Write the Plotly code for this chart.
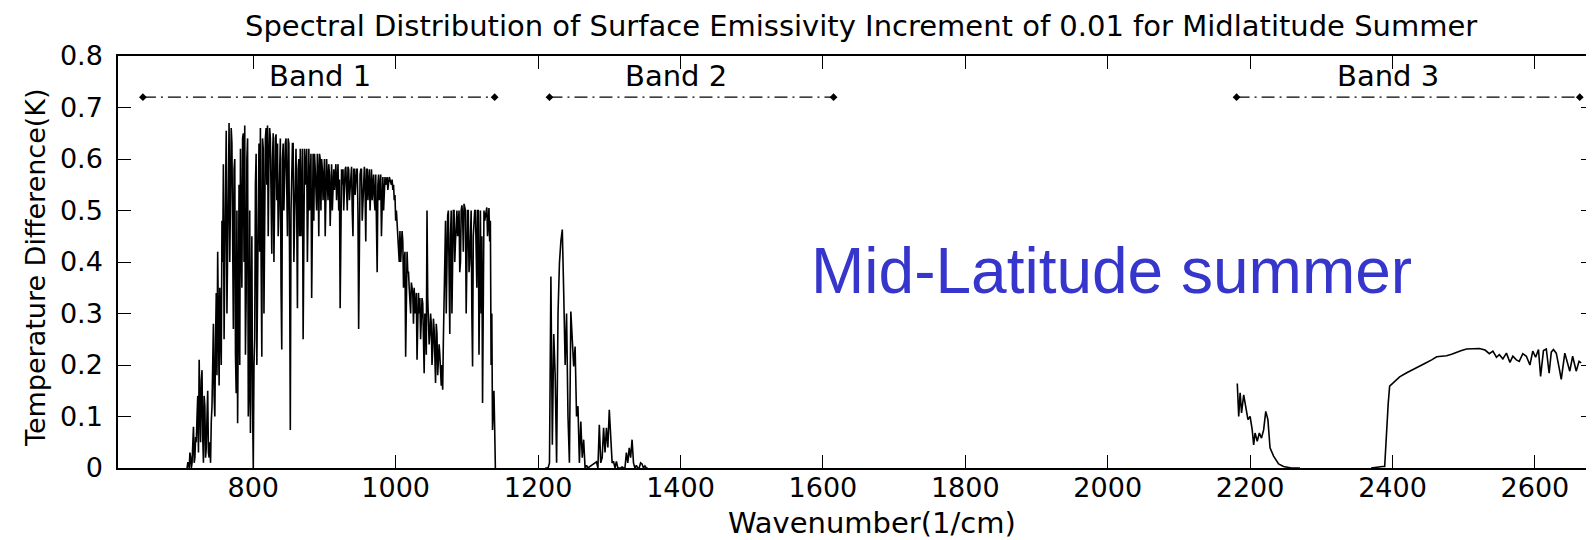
import numpy as np
import plotly.graph_objects as go

# ---------------- data ----------------
# Band 1, even wavenumbers 706..1140
band1_wn_even = list(range(706, 1142, 2))
band1_dt_even = [
    0.00, 0.01, 0.00, 0.02, 0.01, 0.08, 0.02, 0.05, 0.14, 0.21,
    0.05, 0.19, 0.01, 0.12, 0.04, 0.15, 0.02, 0.01, 0.12, 0.28,
    0.10, 0.34, 0.42, 0.16, 0.30, 0.48, 0.59, 0.40, 0.655, 0.45,
    0.67, 0.52, 0.63, 0.27, 0.60, 0.145, 0.087, 0.55, 0.62, 0.35,
    0.65, 0.665, 0.33, 0.64, 0.15, 0.068, 0.45, 0.00, 0.25, 0.61,
    0.35, 0.63, 0.66, 0.216, 0.62, 0.50, 0.66, 0.665, 0.60, 0.64,
    0.416, 0.65, 0.55, 0.648, 0.63, 0.50, 0.64, 0.23, 0.63, 0.58,
    0.64, 0.45, 0.63, 0.074, 0.62, 0.63, 0.48, 0.62, 0.31, 0.60,
    0.62, 0.55, 0.25, 0.62, 0.60, 0.40, 0.62, 0.58, 0.33, 0.61,
    0.61, 0.55, 0.61, 0.45, 0.60, 0.60, 0.52, 0.60, 0.59, 0.56,
    0.59, 0.47, 0.59, 0.58, 0.54, 0.59, 0.58, 0.50, 0.31, 0.58,
    0.58, 0.56, 0.585, 0.50, 0.58, 0.55, 0.585, 0.45, 0.58, 0.57,
    0.58, 0.27, 0.57, 0.58, 0.52, 0.585, 0.44, 0.58, 0.57, 0.50,
    0.58, 0.56, 0.52, 0.57, 0.38, 0.57, 0.56, 0.45, 0.565, 0.56,
    0.55, 0.565, 0.56, 0.56, 0.55, 0.54, 0.52, 0.48, 0.47, 0.44,
    0.46, 0.43, 0.44, 0.40, 0.216, 0.42, 0.38, 0.33, 0.36, 0.34,
    0.35, 0.31, 0.21, 0.34, 0.33, 0.30, 0.32, 0.184, 0.28, 0.50,
    0.30, 0.26, 0.28, 0.23, 0.27, 0.165, 0.26, 0.20, 0.22, 0.16,
    0.152, 0.35, 0.48, 0.42, 0.50, 0.26, 0.50, 0.47, 0.50, 0.44,
    0.50, 0.49, 0.38, 0.50, 0.49, 0.513, 0.50, 0.45, 0.50, 0.40,
    0.50, 0.197, 0.49, 0.50, 0.35, 0.50, 0.48, 0.30, 0.126, 0.50,
    0.49, 0.506, 0.50, 0.44, 0.20, 0.074, 0.15, 0.00,
]
# Band 1, odd wavenumbers 707..1139
band1_wn_odd = list(range(707, 1141, 2))
band1_dt_odd = [
    0.00, 0.01, 0.03, 0.00, 0.04, 0.01, 0.06, 0.10, 0.03, 0.12,
    0.17, 0.06, 0.14, 0.02, 0.10, 0.03, 0.05, 0.09, 0.20, 0.14,
    0.25, 0.18, 0.28, 0.35, 0.20, 0.40, 0.25, 0.62, 0.30, 0.60,
    0.40, 0.66, 0.35, 0.58, 0.22, 0.50, 0.30, 0.20, 0.45, 0.64,
    0.40, 0.22, 0.60, 0.10, 0.50, 0.30, 0.12, 0.20, 0.55, 0.20,
    0.60, 0.42, 0.40, 0.64, 0.30, 0.64, 0.55, 0.45, 0.66, 0.55,
    0.60, 0.40, 0.64, 0.52, 0.45, 0.64, 0.35, 0.60, 0.50, 0.63,
    0.55, 0.64, 0.40, 0.50, 0.63, 0.40, 0.62, 0.50, 0.58, 0.45,
    0.45, 0.62, 0.50, 0.55, 0.62, 0.55, 0.50, 0.61, 0.55, 0.48,
    0.58, 0.50, 0.57, 0.61, 0.50, 0.58, 0.60, 0.45, 0.60, 0.52,
    0.57, 0.59, 0.50, 0.58, 0.59, 0.52, 0.59, 0.56, 0.50, 0.55,
    0.50, 0.58, 0.55, 0.585, 0.52, 0.58, 0.50, 0.58, 0.53, 0.58,
    0.50, 0.55, 0.58, 0.48, 0.58, 0.54, 0.58, 0.52, 0.58, 0.56,
    0.52, 0.57, 0.50, 0.48, 0.55, 0.52, 0.57, 0.55, 0.50, 0.565,
    0.56, 0.54, 0.565, 0.55, 0.56, 0.55, 0.53, 0.50, 0.45, 0.40,
    0.40, 0.46, 0.35, 0.42, 0.30, 0.38, 0.35, 0.30, 0.34, 0.28,
    0.30, 0.34, 0.28, 0.30, 0.25, 0.33, 0.26, 0.30, 0.22, 0.33,
    0.24, 0.30, 0.20, 0.29, 0.22, 0.28, 0.18, 0.24, 0.17, 0.20,
    0.25, 0.40, 0.30, 0.49, 0.40, 0.45, 0.30, 0.50, 0.40, 0.50,
    0.45, 0.50, 0.40, 0.51, 0.42, 0.50, 0.30, 0.50, 0.38, 0.50,
    0.30, 0.45, 0.50, 0.40, 0.50, 0.22, 0.50, 0.45, 0.40, 0.48,
    0.50, 0.45, 0.505, 0.48, 0.30, 0.10, 0.08,
]

band2_wn = list(range(1210, 1356, 2))
band2_dt = [
    0.00, 0.00, 0.00, 0.01, 0.372, 0.045, 0.26, 0.18, 0.01, 0.30,
    0.398, 0.44, 0.463, 0.34, 0.20, 0.30, 0.10, 0.01, 0.304, 0.25,
    0.197, 0.236, 0.10, 0.12, 0.01, 0.09, 0.02, 0.055, 0.00, 0.005,
    0.00, 0.002, 0.004, 0.006, 0.008, 0.010, 0.012, 0.000, 0.084, 0.01,
    0.02, 0.078, 0.03, 0.078, 0.04, 0.113, 0.068, 0.01, 0.013, 0.00,
    0.013, 0.00, 0.00, 0.00, 0.002, 0.00, 0.00, 0.03, 0.01, 0.039,
    0.02, 0.055, 0.01, 0.00, 0.005, 0.00, 0.00, 0.01, 0.008, 0.00,
    0.004, 0.00, 0.00,
]

band3a_wn = [2182, 2184, 2186, 2188, 2191, 2194, 2197, 2200, 2203, 2205,
             2207, 2210, 2213, 2216, 2219, 2222, 2225, 2228, 2233, 2240,
             2247, 2258, 2270]
band3a_dt = [0.164, 0.10, 0.146, 0.107, 0.142, 0.113, 0.094, 0.10, 0.074, 0.045,
             0.068, 0.052, 0.068, 0.058, 0.074, 0.11, 0.094, 0.039, 0.023, 0.008,
             0.003, 0.0, 0.0]

band3b_wn = [2370, 2378, 2386, 2389, 2392, 2394, 2396, 2401, 2410, 2420,
             2429, 2438, 2448, 2455, 2462, 2469, 2476, 2483, 2490, 2497,
             2504, 2512, 2522, 2530, 2536, 2541, 2546,
             2550, 2555, 2560, 2565, 2569, 2574, 2578, 2583, 2588, 2593,
             2597, 2601, 2605, 2608, 2612, 2616, 2620, 2623, 2626, 2630,
             2634, 2637, 2642, 2646, 2649, 2653, 2658, 2662, 2665]
band3b_dt = [0.0, 0.002, 0.003, 0.003, 0.094, 0.126, 0.159, 0.165, 0.177, 0.185,
             0.191, 0.198, 0.205, 0.210, 0.216, 0.217, 0.218, 0.221, 0.225, 0.228,
             0.231, 0.232, 0.232, 0.229, 0.222, 0.227, 0.215,
             0.22, 0.212, 0.223, 0.205, 0.217, 0.21, 0.207, 0.222, 0.217, 0.200,
             0.227, 0.215, 0.23, 0.178, 0.228, 0.231, 0.184, 0.225, 0.23, 0.223,
             0.195, 0.172, 0.223, 0.20, 0.188, 0.217, 0.188, 0.207, 0.204]

bands = ["Band 1", "Band 2", "Band 3"]
band_start = [645, 1216, 2181]
band_end = [1139, 1615, 2663]
band_label_x = [894, 1394, 2393]
band_arrow_y = 0.72
band_label_y = 0.762

x_ticks = [800, 1000, 1200, 1400, 1600, 1800, 2000, 2200, 2400, 2600]
y_ticks = [0, 0.1, 0.2, 0.3, 0.4, 0.5, 0.6, 0.7, 0.8]
y_tick_text = ["0", "0.1", "0.2", "0.3", "0.4", "0.5", "0.6", "0.7", "0.8"]

title_text = "Spectral Distribution of Surface Emissivity Increment of 0.01 for Midlatitude Summer"
x_title = "Wavenumber(1/cm)"
y_title = "Temperature Difference(K)"
overlay_text = "Mid-Latitude summer"

# ---------------- figure ----------------
band1 = sorted(zip(band1_wn_even + band1_wn_odd, band1_dt_even + band1_dt_odd))
band1_wn = [p[0] for p in band1]
band1_dt = [p[1] for p in band1]

wn = band1_wn + [None] + band2_wn + [None] + band3a_wn + [None] + band3b_wn
dt = band1_dt + [None] + band2_dt + [None] + band3a_dt + [None] + band3b_dt

FONT = "DejaVu Sans"
# the page body keeps an 8px margin, so the figure is sized/offset to land on the window
PAGE_PAD = 8
W, H = 1594 - PAGE_PAD, 540 - PAGE_PAD
ML, MT, MB = 118 - PAGE_PAD, 56 - PAGE_PAD, 72
PW, PH = W - ML, H - MT - MB

fig = go.Figure()
fig.add_trace(go.Scatter(x=wn, y=dt, mode="lines", connectgaps=False,
                         line=dict(color="black", width=1.6), hoverinfo="skip"))

for s, e in zip(band_start, band_end):
    fig.add_trace(go.Scatter(x=[s, e], y=[band_arrow_y, band_arrow_y], mode="lines+markers",
                             line=dict(color="black", width=1.3, dash="13px,5px,2px,5px"),
                             marker=dict(symbol="diamond", size=6, color="black"),
                             hoverinfo="skip"))

def px_x(sx):
    return (sx - PAGE_PAD - ML) / PW

def px_y(sy):
    return (MT + PH - (sy - PAGE_PAD)) / PH

annotations = []
for name, lx in zip(bands, band_label_x):
    annotations.append(dict(x=lx, y=band_label_y, xref="x", yref="y", text=name,
                            showarrow=False, font=dict(family=FONT, size=29, color="black"),
                            xanchor="center", yanchor="middle"))
annotations.append(dict(x=2006, y=0.383, xref="x", yref="y", text=overlay_text,
                        showarrow=False, font=dict(family="Liberation Sans", size=64, color="#3636CC"),
                        xanchor="center", yanchor="middle"))
annotations.append(dict(x=px_x(861), y=px_y(25.5), xref="paper", yref="paper",
                        text=title_text, showarrow=False,
                        font=dict(family=FONT, size=29, color="black"),
                        xanchor="center", yanchor="middle"))
annotations.append(dict(x=px_x(872), y=px_y(522.5), xref="paper", yref="paper",
                        text=x_title, showarrow=False,
                        font=dict(family=FONT, size=29, color="black"),
                        xanchor="center", yanchor="middle"))
annotations.append(dict(x=px_x(35), y=px_y(268), xref="paper", yref="paper",
                        text=y_title, showarrow=False, textangle=-90,
                        font=dict(family=FONT, size=27, color="black"),
                        xanchor="center", yanchor="middle"))

fig.update_layout(
    width=W, height=H,
    margin=dict(l=ML, r=0, t=MT, b=MB, pad=0, autoexpand=False),
    paper_bgcolor="white", plot_bgcolor="white",
    showlegend=False,
    annotations=annotations,
    xaxis=dict(range=[610, 2683], tickvals=x_ticks, ticks="inside", ticklen=13, tickwidth=1.3,
               tickcolor="black", showline=True, linecolor="black", linewidth=1.5,
               mirror="ticks", showgrid=False, zeroline=False, automargin=False,
               ticklabelstandoff=-5,
               tickfont=dict(family=FONT, size=27, color="black")),
    yaxis=dict(range=[0, 0.8], tickvals=y_ticks, ticktext=y_tick_text, ticks="inside",
               ticklen=13, tickwidth=1.3, tickcolor="black", showline=True, linecolor="black",
               linewidth=1.5, mirror="ticks", showgrid=False, zeroline=False, automargin=False,
               ticklabelstandoff=8,
               tickfont=dict(family=FONT, size=27, color="black")),
)

fig.write_html("out.html")
